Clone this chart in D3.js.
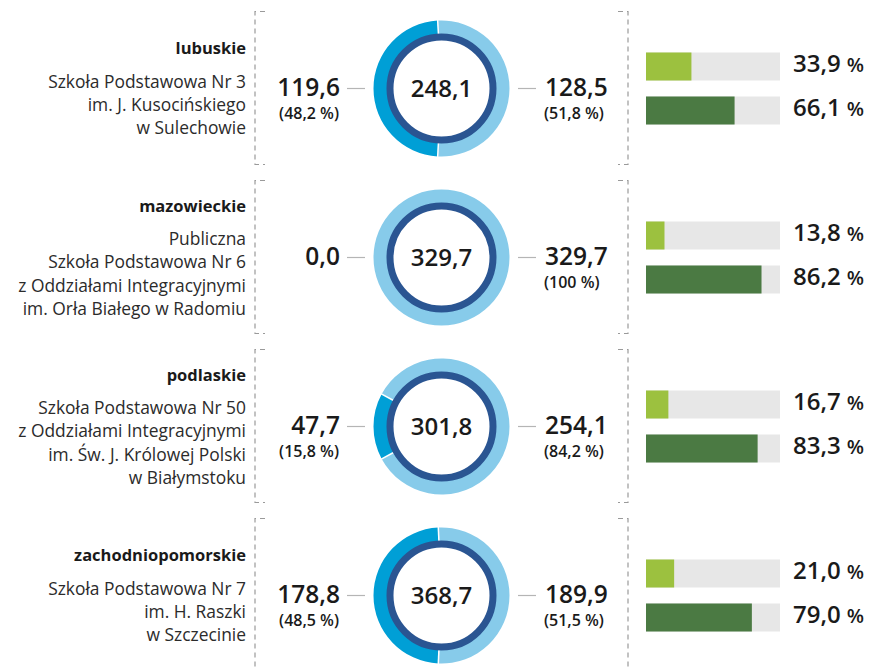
<!DOCTYPE html>
<html><head><meta charset="utf-8">
<script src="https://cdn.jsdelivr.net/npm/d3@7"></script>
<style>
html,body{margin:0;padding:0;background:#fff;}
svg{display:block;font-family:"Open Sans",sans-serif;}
</style></head>
<body>
<script>
const regions = ["lubuskie","mazowieckie","podlaskie","zachodniopomorskie"];
const schoolLines = [
  ["Szkoła Podstawowa Nr 3","im. J. Kusocińskiego","w Sulechowie"],
  ["Publiczna","Szkoła Podstawowa Nr 6","z Oddziałami Integracyjnymi","im. Orła Białego w Radomiu"],
  ["Szkoła Podstawowa Nr 50","z Oddziałami Integracyjnymi","im. Św. J. Królowej Polski","w Białymstoku"],
  ["Szkoła Podstawowa Nr 7","im. H. Raszki","w Szczecinie"]
];
const leftValues  = [119.6, 0.0, 47.7, 178.8];
const leftPct     = [48.2, null, 15.8, 48.5];
const rightValues = [128.5, 329.7, 254.1, 189.9];
const rightPct    = [51.8, 100, 84.2, 51.5];
const totals      = [248.1, 329.7, 301.8, 368.7];
const barLight    = [33.9, 13.8, 16.7, 21.0];
const barDark     = [66.1, 86.2, 83.3, 79.0];

const W = 876, H = 668;
const loc = d3.formatLocale({decimal:",", thousands:" ", grouping:[3], currency:["",""]});
const f1 = loc.format(".1f");
const fp = v => v === 100 ? "100" : f1(v);

const C = {
  dark:"#009fd6", light:"#87cbea", navy:"#2a5592",
  gLight:"#9cc13f", gDark:"#4b7a43", track:"#e7e7e7",
  text:"#1a1a1a", sub:"#2b2b2b", dash:"#9a9a9a", conn:"#b5b5b5"
};

const svg = d3.select("body").append("svg").attr("width",W).attr("height",H);

const yRow = d3.scaleBand().domain(d3.range(regions.length)).range([4, 4+169*4]).paddingInner(0);
const cy = i => yRow(i) + yRow.bandwidth()/2;  // row center
const cx = 441.5;
const rOuter = 68, rInner = 54, navyOuter = 55, navyInner = 48;

const xBar = d3.scaleLinear().domain([0,100]).range([646,780]);
const arc = d3.arc().innerRadius(rInner).outerRadius(rOuter);

regions.forEach((reg, i) => {
  const c = cy(i);
  const g = svg.append("g");

  // brackets
  const top = c - 77, bot = c + 76;
  const dash = "5,4";
  g.append("path").attr("d", `M265,${top}H255V${bot}H265`)
    .attr("fill","none").attr("stroke",C.dash).attr("stroke-width",1.2).attr("stroke-dasharray",dash);
  g.append("path").attr("d", `M618,${top}H628V${bot}H618`)
    .attr("fill","none").attr("stroke",C.dash).attr("stroke-width",1.2).attr("stroke-dasharray",dash);

  // left text block
  const lines = schoolLines[i];
  const blockH = 33 + (lines.length-1)*23.3;
  const y0 = c - blockH/2;
  g.append("text").attr("x",246).attr("y",y0).attr("dy","0.35em")
    .attr("text-anchor","end").attr("font-size",16.5).attr("font-weight",700)
    .attr("fill",C.text).text(reg);
  lines.forEach((ln, k) => {
    g.append("text").attr("x",246).attr("y",y0+33+k*23.3).attr("dy","0.35em")
      .attr("text-anchor","end").attr("font-size",17.4).attr("font-weight",400)
      .attr("fill",C.sub).text(ln);
  });

  // donut
  const total = leftValues[i] + rightValues[i];
  const p = leftValues[i] / total;
  const pie = d3.pie().sort(null)
    .startAngle(-Math.PI/2 - p*Math.PI)
    .endAngle(-Math.PI/2 - p*Math.PI + 2*Math.PI);
  const arcs = pie([leftValues[i], rightValues[i]]);
  const dg = g.append("g").attr("transform",`translate(${cx},${c})`);
  dg.selectAll("path.seg").data(arcs).join("path").attr("class","seg")
    .attr("d", arc)
    .attr("fill",(d,k)=> k===0 ? C.dark : C.light);
  // separators
  if (leftValues[i] > 0 && rightValues[i] > 0) {
    arcs.forEach(a => {
      const ang = a.startAngle;
      dg.append("line")
        .attr("x1", (rInner-1)*Math.sin(ang)).attr("y1", -(rInner-1)*Math.cos(ang))
        .attr("x2", (rOuter+1)*Math.sin(ang)).attr("y2", -(rOuter+1)*Math.cos(ang))
        .attr("stroke","#fff").attr("stroke-width",1.5);
    });
  }
  dg.append("circle").attr("r",(navyOuter+navyInner)/2).attr("fill","#fff")
    .attr("stroke",C.navy).attr("stroke-width",navyOuter-navyInner);
  dg.append("text").attr("text-anchor","middle").attr("dy","0.36em")
    .attr("font-size",24).attr("font-weight",600).attr("fill",C.text).text(f1(totals[i]));

  // connectors
  g.append("line").attr("x1",347).attr("x2",365).attr("y1",c).attr("y2",c)
    .attr("stroke",C.conn).attr("stroke-width",1.2);
  g.append("line").attr("x1",518).attr("x2",536).attr("y1",c).attr("y2",c)
    .attr("stroke",C.conn).attr("stroke-width",1.2);

  // left values
  g.append("text").attr("x",340).attr("y",c-1).attr("dy","0.36em").attr("text-anchor","end")
    .attr("font-size",24.5).attr("font-weight",600).attr("fill",C.text).text(f1(leftValues[i]));
  if (leftPct[i] !== null) {
    g.append("text").attr("x",339).attr("y",c+25).attr("dy","0.36em").attr("text-anchor","end")
      .attr("font-size",16).attr("font-weight",600).attr("fill",C.text).text(`(${fp(leftPct[i])} %)`);
  }
  // right values
  g.append("text").attr("x",545).attr("y",c-1).attr("dy","0.36em")
    .attr("font-size",24.5).attr("font-weight",600).attr("fill",C.text).text(f1(rightValues[i]));
  g.append("text").attr("x",544).attr("y",c+25).attr("dy","0.36em")
    .attr("font-size",16).attr("font-weight",600).attr("fill",C.text).text(`(${fp(rightPct[i])} %)`);

  // bars
  const bars = [{v:barLight[i], col:C.gLight, y:c-22},{v:barDark[i], col:C.gDark, y:c+22}];
  bars.forEach(b => {
    g.append("rect").attr("x",xBar(0)).attr("y",b.y-14).attr("width",xBar(100)-xBar(0)).attr("height",28)
      .attr("fill",C.track);
    g.append("rect").attr("x",xBar(0)).attr("y",b.y-14).attr("width",xBar(b.v)-xBar(0)).attr("height",28)
      .attr("fill",b.col);
    const t = g.append("text").attr("x",793).attr("y",b.y).attr("dy","0.36em")
      .attr("fill",C.text).attr("font-weight",600);
    t.append("tspan").attr("font-size",24).text(f1(b.v));
    t.append("tspan").attr("font-size",20).attr("dx",6).text("%");
  });
});
</script>
</body></html>
